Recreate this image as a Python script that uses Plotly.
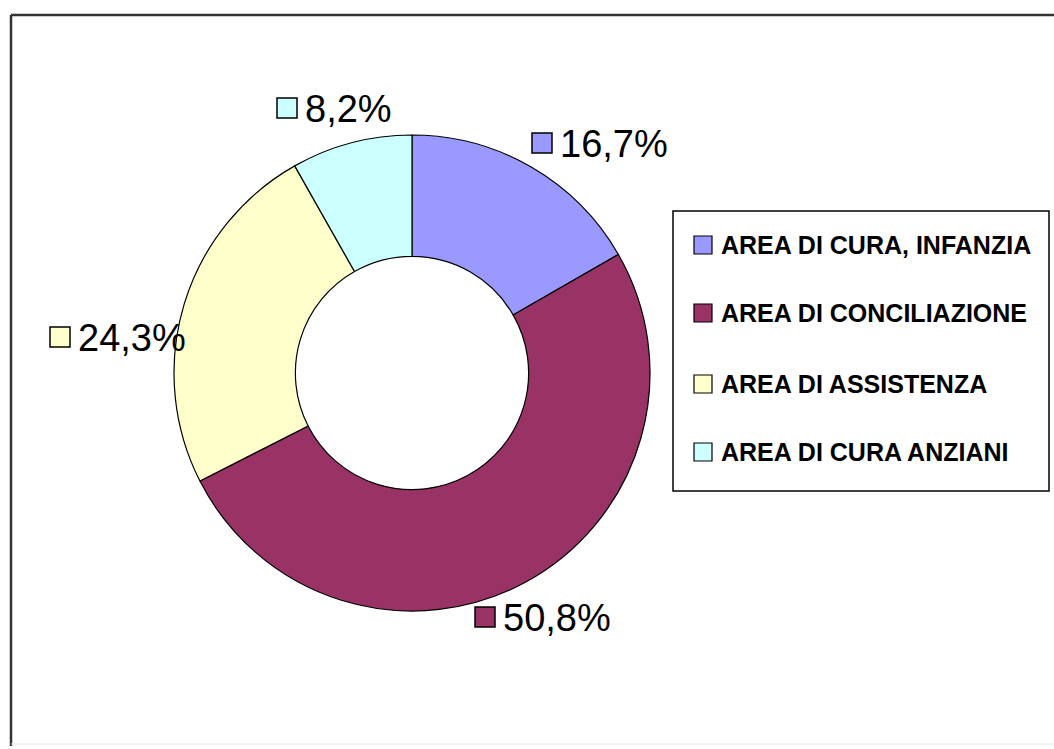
import plotly.graph_objects as go

categories = ["AREA DI CURA, INFANZIA", "AREA DI CONCILIAZIONE", "AREA DI ASSISTENZA", "AREA DI CURA ANZIANI"]
values = [16.7, 50.8, 24.3, 8.2]
value_labels = ["16,7%", "50,8%", "24,3%", "8,2%"]
colors = ["#9999FF", "#993366", "#FFFFCC", "#CCFFFF"]

W, H = 1054, 749
FONT = "Liberation Sans, Arial, sans-serif"


def px(x):
    return x / W


def py(y):
    return 1 - y / H


# pie geometry (pixels)
cx, cy, R = 412, 373, 238
fig = go.Figure(go.Pie(
    labels=categories,
    values=values,
    sort=False,
    direction="clockwise",
    rotation=0,
    hole=0.49,
    marker=dict(colors=colors, line=dict(color="#000000", width=1.2)),
    textinfo="none",
    hoverinfo="label+percent",
    showlegend=False,
    domain=dict(x=[px(cx - R), px(cx + R)], y=[py(cy + R), py(cy - R)]),
))

shapes = []
annotations = []

# frame
shapes.append(dict(type="line", xref="paper", yref="paper", x0=px(11), x1=1.01, y0=py(15), y1=py(15),
                   line=dict(color="#333333", width=2.5)))
shapes.append(dict(type="line", xref="paper", yref="paper", x0=px(11), x1=px(11), y0=py(15), y1=py(746),
                   line=dict(color="#333333", width=2.5)))
shapes.append(dict(type="line", xref="paper", yref="paper", x0=px(11), x1=1.01, y0=py(744), y1=py(744),
                   line=dict(color="#e6e6e6", width=1)))

# data labels: square left-top corner (pixels) and text
label_pos = [(532, 133), (475, 607), (50, 327), (277, 98)]
for (sx, sy), txt, col in zip(label_pos, value_labels, colors):
    shapes.append(dict(type="rect", xref="paper", yref="paper",
                       x0=px(sx), x1=px(sx + 20), y0=py(sy), y1=py(sy + 20),
                       fillcolor=col, line=dict(color="#000000", width=1.5)))
    annotations.append(dict(xref="paper", yref="paper", x=px(sx + 26), y=py(sy + 11),
                            xanchor="left", yanchor="middle", showarrow=False, text=txt,
                            font=dict(family=FONT, size=38, color="#000000")))

# legend box
shapes.append(dict(type="rect", xref="paper", yref="paper", x0=px(673), x1=px(1049), y0=py(211), y1=py(491),
                   fillcolor="rgba(0,0,0,0)", line=dict(color="#000000", width=1.5)))
row_y = [245, 313, 384, 452]
for ry, cat, col in zip(row_y, categories, colors):
    shapes.append(dict(type="rect", xref="paper", yref="paper",
                       x0=px(694), x1=px(712), y0=py(ry - 9), y1=py(ry + 9),
                       fillcolor=col, line=dict(color="#000000", width=1.2)))
    annotations.append(dict(xref="paper", yref="paper", x=px(719), y=py(ry),
                            xanchor="left", yanchor="middle", showarrow=False, text=cat,
                            font=dict(family=FONT, size=25, color="#000000", weight="bold")))

fig.update_layout(
    width=W, height=H,
    margin=dict(l=0, r=0, t=0, b=0),
    paper_bgcolor="#ffffff",
    plot_bgcolor="#ffffff",
    shapes=shapes,
    annotations=annotations,
)

fig.write_html("out.html")
